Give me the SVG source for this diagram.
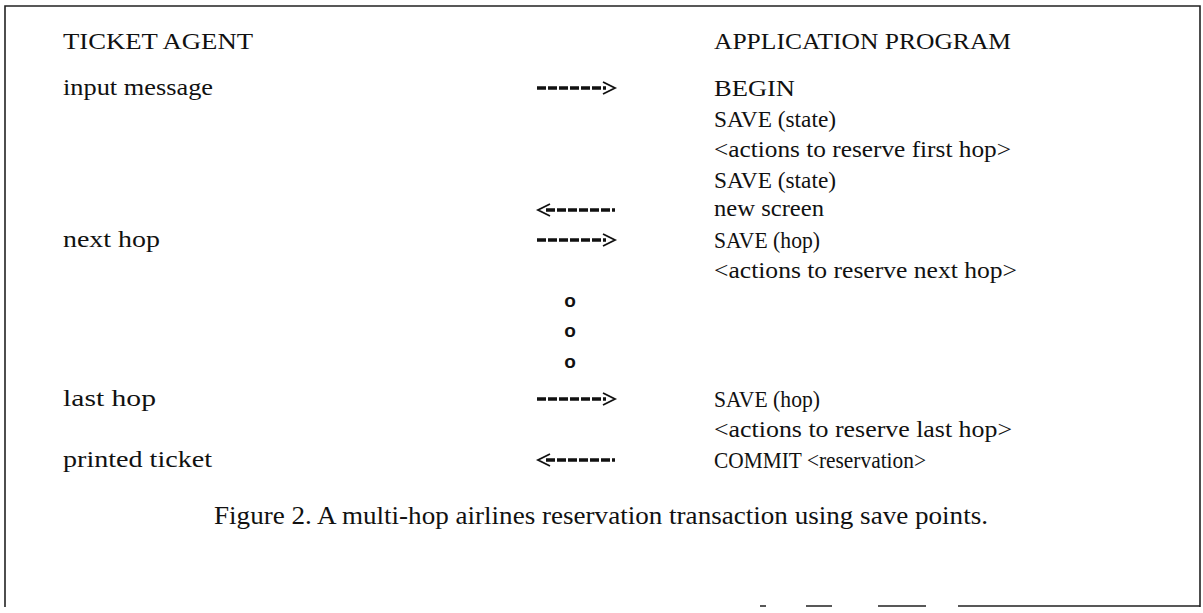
<svg xmlns="http://www.w3.org/2000/svg" width="1203" height="613" viewBox="0 0 1203 613">
<style>
.t{font-family:"Liberation Serif","Times New Roman",serif;font-size:24px;fill:#111}
.s{font-size:23px}
.cap{font-family:"Liberation Serif","Times New Roman",serif;font-size:25px;fill:#111}
.dot{font-family:"Liberation Sans",Arial,sans-serif;font-size:19px;font-weight:bold;fill:#111;text-anchor:middle}
.dash{stroke:#111;stroke-width:3.5;stroke-dasharray:9 2;fill:none}
.chev{stroke:#111;stroke-width:1.8;fill:none}
.frame{stroke:#222;stroke-width:1.6;fill:none}
</style>
<rect width="1203" height="613" fill="#fff"/>
<g id="frame">
<path class="frame" d="M5,607 V6 H1200 V607"/>
<path class="frame" d="M760,606 H766 M806,606 H832 M878,606 H926 M958,606 H1200"/>
</g>
<g id="ticket-agent">
<text class="t" x="63" y="49" textLength="190" lengthAdjust="spacingAndGlyphs">TICKET AGENT</text>
<text class="t" x="63" y="95" textLength="150" lengthAdjust="spacingAndGlyphs">input message</text>
<text class="t" x="63" y="247" textLength="97" lengthAdjust="spacingAndGlyphs">next hop</text>
<text class="t" x="63" y="406" textLength="93" lengthAdjust="spacingAndGlyphs">last hop</text>
<text class="t" x="63" y="467" textLength="149" lengthAdjust="spacingAndGlyphs">printed ticket</text>
</g>
<g id="application-program">
<text class="t" x="714" y="49" textLength="297" lengthAdjust="spacingAndGlyphs">APPLICATION PROGRAM</text>
<text class="t" x="714" y="96" textLength="81" lengthAdjust="spacingAndGlyphs">BEGIN</text>
<text class="t" x="714" y="127" textLength="122" lengthAdjust="spacingAndGlyphs">SAVE (state)</text>
<text class="t" x="714" y="157" textLength="297" lengthAdjust="spacingAndGlyphs">&lt;actions to reserve first hop&gt;</text>
<text class="t" x="714" y="188" textLength="122" lengthAdjust="spacingAndGlyphs">SAVE (state)</text>
<text class="t" x="714" y="216" textLength="110" lengthAdjust="spacingAndGlyphs">new screen</text>
<text class="t s" x="714" y="248" textLength="106" lengthAdjust="spacingAndGlyphs">SAVE (hop)</text>
<text class="t" x="714" y="278" textLength="303" lengthAdjust="spacingAndGlyphs">&lt;actions to reserve next hop&gt;</text>
<text class="t s" x="714" y="407" textLength="106" lengthAdjust="spacingAndGlyphs">SAVE (hop)</text>
<text class="t" x="714" y="437" textLength="298" lengthAdjust="spacingAndGlyphs">&lt;actions to reserve last hop&gt;</text>
<text class="t s" x="714" y="468" textLength="212" lengthAdjust="spacingAndGlyphs">COMMIT &lt;reservation&gt;</text>
</g>
<g id="continuation">
<text class="dot" x="570" y="307">o</text>
<text class="dot" x="570" y="337">o</text>
<text class="dot" x="570" y="368">o</text>
</g>
<g id="connectors">
<g id="msg-input">
<line class="dash" x1="537" y1="88" x2="606" y2="88"/>
<polyline class="chev" points="603,82 615,88 603,94"/>
</g>
<g id="msg-new-screen">
<polyline class="chev" points="550,204 538,210 550,216"/>
<line class="dash" x1="546" y1="210" x2="615" y2="210"/>
</g>
<g id="msg-next-hop">
<line class="dash" x1="537" y1="240" x2="606" y2="240"/>
<polyline class="chev" points="603,234 615,240 603,246"/>
</g>
<g id="msg-last-hop">
<line class="dash" x1="537" y1="399" x2="606" y2="399"/>
<polyline class="chev" points="603,393 615,399 603,405"/>
</g>
<g id="msg-ticket">
<polyline class="chev" points="550,454 538,460 550,466"/>
<line class="dash" x1="546" y1="460" x2="615" y2="460"/>
</g>
</g>
<g id="caption">
<text class="cap" x="214" y="524" textLength="774" lengthAdjust="spacingAndGlyphs">Figure 2. A multi-hop airlines reservation transaction using save points.</text>
</g>
</svg>
